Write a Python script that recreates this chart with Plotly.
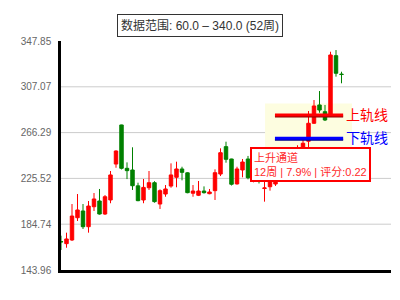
import plotly.graph_objects as go

weeks = list(range(52))
opens = [169.3, 167.4, 170.7, 190.5, 196.5, 182.5, 200.3, 205.4, 193.8, 206.3,
         238.3, 273.1, 234.5, 233.0, 218.9, 206.3, 217.2, 221.7, 202.7, 211.6,
         218.7, 226.5, 233.9, 230.5, 212.3, 210.5, 214.3, 211.9, 214.6, 229.4,
         253.8, 242.8, 220.6, 233.0, 242.8, 226.0, 230.0, 216.5, 218.1, 220.5,
         228.0, 236.0, 233.0, 244.0, 250.0, 258.6, 274.6, 290.9, 284.9, 281.9,
         334.8, 318.4]
highs = [174.5, 177.2, 202.7, 211.6, 202.7, 205.4, 212.5, 216.1, 210.7, 232.1,
         250.5, 273.3, 239.8, 253.2, 221.7, 225.0, 232.1, 223.0, 215.8, 219.6,
         238.9, 240.4, 235.9, 231.0, 219.6, 223.2, 218.4, 216.1, 233.6, 252.3,
         258.2, 243.0, 235.9, 242.8, 245.5, 234.0, 234.0, 226.0, 229.0, 232.0,
         240.0, 241.0, 248.0, 255.0, 260.3, 285.5, 295.3, 303.3, 290.9, 338.3,
         339.8, 320.5]
lows = [161.8, 163.8, 169.8, 187.6, 180.5, 177.2, 196.5, 193.3, 193.0, 203.4,
        235.0, 233.5, 224.9, 215.2, 205.2, 203.4, 215.2, 203.9, 198.3, 209.2,
        217.2, 217.6, 223.8, 212.3, 209.2, 209.8, 212.0, 211.4, 206.3, 227.6,
        239.5, 219.2, 220.0, 226.5, 224.7, 222.0, 221.0, 204.8, 214.6, 218.8,
        225.0, 228.0, 230.0, 240.0, 246.0, 250.8, 274.0, 284.0, 276.6, 281.0,
        316.1, 310.2]
closes = [169.0, 171.6, 192.0, 197.4, 182.5, 200.9, 207.2, 193.8, 209.2, 228.6,
          249.9, 234.5, 232.4, 219.0, 205.7, 217.5, 221.7, 204.8, 214.6, 216.1,
          228.6, 233.9, 230.9, 212.8, 214.3, 214.3, 212.8, 213.4, 230.6, 248.4,
          242.5, 220.3, 233.9, 240.1, 226.1, 230.0, 224.0, 217.0, 226.0, 228.0,
          236.0, 232.0, 244.0, 250.0, 256.8, 274.6, 290.0, 286.4, 277.5, 335.4,
          319.1, 318.0]

y_ticks = [143.96, 184.74, 225.52, 266.29, 307.07, 347.85]
y_ticktext = ["%.2f" % v for v in y_ticks]

upper_line = 281.9
lower_line = 261.2
channel_x = [38.9, 51.3]
zone_x = [37.1, 52.9]
zone_y = [250.0, 292.2]

title_text = "数据范围: 60.0 – 340.0 (52周)"
note_text = "上升通道<br>12周 | 7.9% | 评分:0.22"

FONT = "Liberation Sans, Arial, Noto Sans CJK SC, sans-serif"

fig = go.Figure(go.Candlestick(
    x=weeks, open=opens, high=highs, low=lows, close=closes,
    increasing=dict(line=dict(color="#ff0000", width=1), fillcolor="#ff0000"),
    decreasing=dict(line=dict(color="#008000", width=1), fillcolor="#008000"),
    whiskerwidth=0, hoverinfo="skip", showlegend=False,
))

shapes = []
shapes.append(dict(type="rect", xref="x", yref="y", x0=zone_x[0], x1=zone_x[1],
                   y0=zone_y[0], y1=zone_y[1], fillcolor="#fdfde0",
                   line=dict(width=0), layer="below"))
for v in y_ticks[1:-1]:
    shapes.append(dict(type="line", xref="paper", yref="y", x0=0, x1=1, y0=v, y1=v,
                       line=dict(color="#cccccc", width=1), layer="below"))
for val, col, dark in [(upper_line, "#ff0000", "#8b0000"), (lower_line, "#0000ff", "#00008b")]:
    shapes.append(dict(type="line", xref="x", yref="y", x0=channel_x[0], x1=channel_x[1],
                       y0=val - 1.2, y1=val - 1.2, line=dict(color=dark, width=2)))
    shapes.append(dict(type="line", xref="x", yref="y", x0=channel_x[0], x1=channel_x[1],
                       y0=val, y1=val, line=dict(color=col, width=3)))

annotations = [
    dict(text=title_text, xref="paper", yref="paper", x=0.42, y=1.066,
         xanchor="center", yanchor="middle", showarrow=False,
         font=dict(size=12, color="#333333", family=FONT),
         bordercolor="#333333", borderwidth=1, borderpad=3, bgcolor="white"),
    dict(text=note_text, xref="x", yref="y", x=34.45, y=253.7,
         xanchor="left", yanchor="top", align="left", showarrow=False,
         font=dict(size=11, color="#ff2a2a", family=FONT),
         bordercolor="#ff0000", borderwidth=2, borderpad=2, bgcolor="white"),
    dict(text="上轨线", xref="x", yref="y", x=51.5, y=upper_line,
         xanchor="left", yanchor="middle", showarrow=False,
         font=dict(size=14, color="#ff0000", family=FONT)),
    dict(text="下轨线", xref="x", yref="y", x=51.5, y=lower_line,
         xanchor="left", yanchor="middle", showarrow=False,
         font=dict(size=14, color="#0000ff", family=FONT)),
]

fig.update_layout(
    width=400, height=300,
    margin=dict(l=61, r=9, t=41, b=30, pad=0),
    paper_bgcolor="white", plot_bgcolor="white",
    boxgap=0.1,
    shapes=shapes, annotations=annotations,
    font=dict(family=FONT),
    xaxis=dict(range=[0, 60], showgrid=False, zeroline=False, showticklabels=False,
               showline=True, linecolor="black", linewidth=2.5, ticks="",
               rangeslider=dict(visible=False), fixedrange=True),
    yaxis=dict(range=[y_ticks[0], y_ticks[-1]], tickvals=y_ticks, ticktext=y_ticktext,
               showgrid=False, zeroline=False, showline=True, linecolor="black",
               linewidth=2.5, ticks="", ticklabelstandoff=5,
               tickfont=dict(size=10, color="#666666", family=FONT), fixedrange=True),
)

fig.write_html("out.html", config=dict(displayModeBar=False))
